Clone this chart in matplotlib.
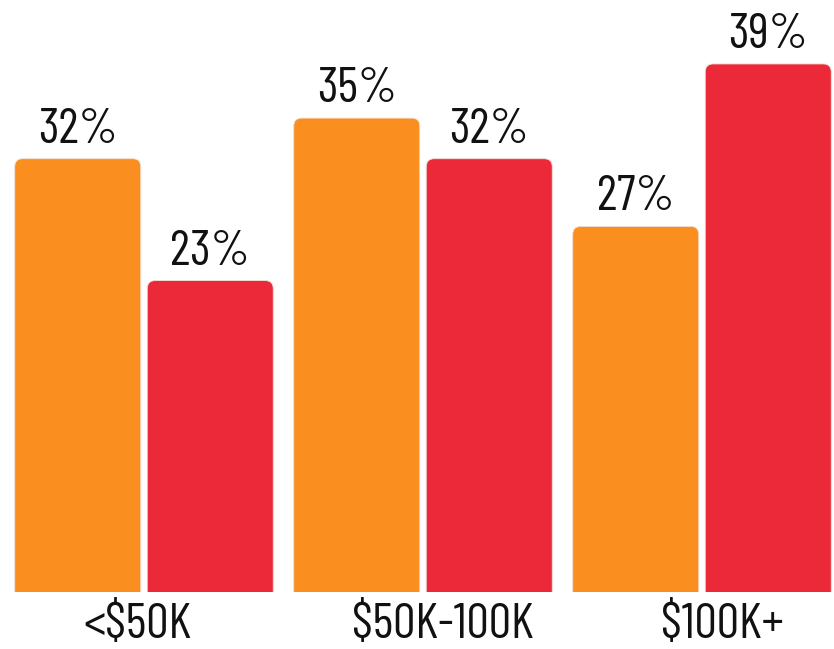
import matplotlib
matplotlib.use("Agg")
import matplotlib.pyplot as plt
from matplotlib.patches import FancyBboxPatch
import numpy as np

categories = ["<$50K", "$50K-100K", "$100K+"]
series_a = [32, 35, 27]   # orange
series_b = [23, 32, 39]   # red
value_labels_a = ["32%", "35%", "27%"]
value_labels_b = ["23%", "32%", "39%"]

color_a = "#FA8E1E"
color_b = "#EC2939"
label_offsets = [-0.025, 0.072, 0.072]

plt.rcParams['font.family'] = ['Barlow Condensed', 'DejaVu Sans']

W, H, DPI = 834, 649, 100
fig = plt.figure(figsize=(W / DPI, H / DPI), dpi=DPI)
ax = fig.add_axes([0, (H - 592) / H, 1, 592 / H])

px_per_x = 279.0
px_per_y = 13.54
ax.set_xlim(-144 / px_per_x, (W - 144) / px_per_x)
ax.set_ylim(0, 592 / px_per_y)

x = np.arange(len(categories))
width = 126 / px_per_x
off = 66.25 / px_per_x

bars_a = ax.bar(x - off, series_a, width, color=color_a, alpha=0)
bars_b = ax.bar(x + off, series_b, width, color=color_b, alpha=0)

aspect = px_per_x / px_per_y
r = 8 / px_per_x
for bars, col in ((bars_a, color_a), (bars_b, color_b)):
    for b in bars:
        x0, w, h = b.get_x(), b.get_width(), b.get_height()
        p = FancyBboxPatch((x0, -2), w, h + 2,
                           boxstyle=f"round,pad=0,rounding_size={r}",
                           mutation_aspect=aspect, facecolor=col,
                           edgecolor="#f0e0d8", linewidth=0.6)
        ax.add_patch(p)

fs = 36
for bars, labels in ((bars_a, value_labels_a), (bars_b, value_labels_b)):
    for b, lab in zip(bars, labels):
        ax.text(b.get_x() + b.get_width() / 2, b.get_height() + 16 / px_per_y, lab,
                ha="center", va="baseline", fontsize=fs, color="#111111",
                fontweight="normal")

for xi, cat, lo in zip(x, categories, label_offsets):
    ax.text(xi + lo, -46 / px_per_y, cat, ha="center", va="baseline",
            fontsize=fs, color="#111111", clip_on=False, fontweight="normal")

ax.axis("off")
fig.savefig("out.png", dpi=DPI, facecolor="white")
